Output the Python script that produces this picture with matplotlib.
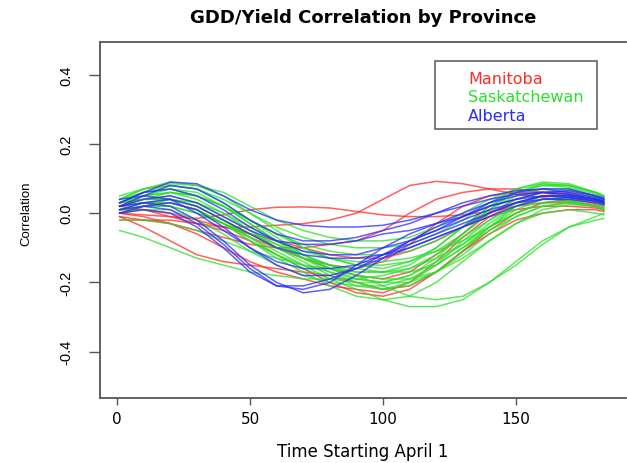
import matplotlib
matplotlib.use('Agg')
import matplotlib.pyplot as plt
from matplotlib.patches import Rectangle
import numpy as np

days = [1, 10, 20, 30, 40, 50, 60, 70, 80, 90, 100, 110, 120, 130, 140, 150, 160, 170, 180, 183]

# Manitoba stations
manitoba = [
    [0.0, -0.005, -0.01, -0.015, -0.005, 0.01, 0.017, 0.018, 0.015, 0.005, -0.005, -0.01, -0.01, -0.005, 0.005, 0.02, 0.03, 0.03, 0.02, 0.015],
    [0.02, 0.01, -0.01, -0.03, -0.04, -0.04, -0.035, -0.03, -0.02, 0.0, 0.04, 0.08, 0.092, 0.085, 0.07, 0.055, 0.045, 0.035, 0.025, 0.02],
    [-0.01, -0.02, -0.03, -0.05, -0.07, -0.09, -0.1, -0.1, -0.09, -0.08, -0.05, 0.0, 0.04, 0.06, 0.07, 0.07, 0.06, 0.045, 0.03, 0.025],
    [0.0, -0.01, -0.03, -0.06, -0.1, -0.14, -0.17, -0.19, -0.21, -0.22, -0.23, -0.2, -0.14, -0.07, -0.01, 0.03, 0.05, 0.05, 0.035, 0.03],
    [-0.01, -0.04, -0.08, -0.12, -0.14, -0.15, -0.16, -0.17, -0.18, -0.2, -0.22, -0.21, -0.17, -0.11, -0.05, 0.0, 0.03, 0.04, 0.03, 0.025],
    [0.02, 0.03, 0.03, 0.01, -0.03, -0.07, -0.1, -0.13, -0.16, -0.18, -0.19, -0.17, -0.12, -0.06, 0.0, 0.04, 0.06, 0.06, 0.045, 0.04],
    [0.01, 0.01, 0.0, -0.02, -0.04, -0.06, -0.08, -0.1, -0.12, -0.13, -0.13, -0.11, -0.08, -0.04, -0.01, 0.01, 0.02, 0.02, 0.015, 0.01],
    [0.03, 0.04, 0.04, 0.02, -0.02, -0.06, -0.1, -0.13, -0.15, -0.16, -0.14, -0.09, -0.03, 0.02, 0.05, 0.06, 0.06, 0.05, 0.04, 0.035],
    [-0.02, -0.02, -0.02, -0.03, -0.05, -0.08, -0.12, -0.16, -0.2, -0.23, -0.24, -0.22, -0.17, -0.11, -0.06, -0.02, 0.0, 0.01, 0.01, 0.005],
]

# Saskatchewan stations
saskatchewan = [
    [0.04, 0.07, 0.09, 0.08, 0.05, 0.0, -0.05, -0.1, -0.13, -0.15, -0.16, -0.14, -0.1, -0.04, 0.02, 0.06, 0.08, 0.08, 0.06, 0.05],
    [0.03, 0.06, 0.08, 0.07, 0.03, -0.02, -0.07, -0.12, -0.16, -0.19, -0.2, -0.18, -0.13, -0.06, 0.01, 0.06, 0.085, 0.08, 0.06, 0.05],
    [-0.05, -0.07, -0.1, -0.13, -0.15, -0.17, -0.18, -0.19, -0.19, -0.19, -0.18, -0.16, -0.12, -0.07, -0.02, 0.02, 0.04, 0.04, 0.03, 0.02],
    [0.01, 0.02, 0.02, 0.0, -0.03, -0.07, -0.11, -0.15, -0.19, -0.22, -0.25, -0.27, -0.27, -0.25, -0.2, -0.14, -0.08, -0.04, -0.02, -0.015],
    [0.02, 0.03, 0.03, 0.01, -0.03, -0.08, -0.13, -0.17, -0.21, -0.24, -0.25, -0.24, -0.2, -0.14, -0.08, -0.03, 0.0, 0.01, 0.0, -0.005],
    [0.03, 0.05, 0.06, 0.04, 0.0, -0.05, -0.1, -0.14, -0.18, -0.21, -0.22, -0.2, -0.15, -0.08, -0.02, 0.03, 0.05, 0.05, 0.03, 0.02],
    [0.0, 0.02, 0.03, 0.01, -0.03, -0.08, -0.12, -0.15, -0.17, -0.19, -0.2, -0.2, -0.17, -0.12, -0.06, -0.01, 0.02, 0.03, 0.02, 0.01],
    [0.02, 0.05, 0.07, 0.06, 0.02, -0.03, -0.08, -0.12, -0.15, -0.17, -0.17, -0.15, -0.1, -0.04, 0.02, 0.06, 0.08, 0.075, 0.055, 0.045],
    [0.04, 0.06, 0.07, 0.05, 0.02, -0.02, -0.06, -0.09, -0.11, -0.12, -0.12, -0.11, -0.08, -0.04, 0.01, 0.05, 0.07, 0.07, 0.05, 0.04],
    [0.01, 0.03, 0.04, 0.02, -0.02, -0.06, -0.1, -0.13, -0.15, -0.16, -0.17, -0.17, -0.15, -0.1, -0.04, 0.01, 0.04, 0.045, 0.03, 0.02],
    [0.03, 0.04, 0.04, 0.02, -0.02, -0.07, -0.12, -0.16, -0.19, -0.2, -0.2, -0.18, -0.14, -0.09, -0.03, 0.02, 0.05, 0.055, 0.04, 0.03],
    [0.05, 0.07, 0.08, 0.07, 0.04, 0.0, -0.04, -0.07, -0.09, -0.1, -0.1, -0.09, -0.06, -0.02, 0.03, 0.07, 0.09, 0.085, 0.06, 0.05],
    [0.0, 0.01, 0.01, -0.02, -0.06, -0.11, -0.15, -0.18, -0.2, -0.21, -0.21, -0.19, -0.15, -0.1, -0.05, -0.01, 0.02, 0.03, 0.02, 0.01],
    [0.02, 0.04, 0.05, 0.03, -0.01, -0.05, -0.09, -0.13, -0.16, -0.18, -0.19, -0.19, -0.17, -0.13, -0.08, -0.03, 0.01, 0.025, 0.02, 0.01],
    [0.01, 0.02, 0.02, 0.0, -0.03, -0.06, -0.09, -0.12, -0.15, -0.18, -0.21, -0.24, -0.25, -0.24, -0.2, -0.15, -0.09, -0.04, -0.01, 0.0],
    [0.03, 0.05, 0.06, 0.05, 0.02, -0.02, -0.06, -0.1, -0.13, -0.15, -0.15, -0.14, -0.11, -0.06, 0.0, 0.04, 0.06, 0.065, 0.045, 0.035],
    [-0.02, -0.02, -0.03, -0.05, -0.08, -0.11, -0.13, -0.15, -0.16, -0.17, -0.17, -0.16, -0.13, -0.09, -0.04, 0.0, 0.03, 0.035, 0.02, 0.01],
    [0.02, 0.04, 0.06, 0.05, 0.02, -0.03, -0.08, -0.13, -0.17, -0.2, -0.22, -0.21, -0.17, -0.11, -0.04, 0.02, 0.05, 0.05, 0.035, 0.025],
    [0.04, 0.07, 0.085, 0.08, 0.06, 0.02, -0.02, -0.05, -0.07, -0.08, -0.08, -0.07, -0.04, 0.0, 0.04, 0.07, 0.085, 0.08, 0.06, 0.05],
    [0.0, 0.02, 0.04, 0.03, 0.0, -0.04, -0.08, -0.11, -0.13, -0.14, -0.14, -0.13, -0.11, -0.08, -0.04, 0.0, 0.03, 0.035, 0.02, 0.01],
]

# Alberta stations
alberta = [
    [0.03, 0.06, 0.09, 0.085, 0.05, 0.01, -0.02, -0.035, -0.04, -0.04, -0.035, -0.02, 0.0, 0.02, 0.04, 0.055, 0.06, 0.055, 0.04, 0.035],
    [0.02, 0.05, 0.08, 0.07, 0.03, -0.02, -0.06, -0.08, -0.08, -0.07, -0.05, -0.03, 0.0, 0.03, 0.05, 0.065, 0.07, 0.06, 0.045, 0.04],
    [0.01, 0.02, 0.01, -0.03, -0.09, -0.16, -0.21, -0.22, -0.2, -0.15, -0.1, -0.06, -0.03, 0.0, 0.03, 0.05, 0.06, 0.055, 0.04, 0.035],
    [0.02, 0.03, 0.02, -0.02, -0.08, -0.15, -0.2, -0.23, -0.22, -0.18, -0.13, -0.08, -0.04, -0.01, 0.02, 0.04, 0.05, 0.045, 0.035, 0.03],
    [0.0, 0.01, 0.0, -0.04, -0.1, -0.17, -0.21, -0.21, -0.19, -0.16, -0.12, -0.08, -0.05, -0.02, 0.01, 0.03, 0.04, 0.04, 0.03, 0.025],
    [0.04, 0.05, 0.04, 0.0, -0.05, -0.1, -0.14, -0.16, -0.16, -0.15, -0.12, -0.09, -0.06, -0.03, 0.0, 0.03, 0.05, 0.05, 0.04, 0.03],
    [0.03, 0.06, 0.07, 0.05, 0.01, -0.04, -0.08, -0.11, -0.12, -0.12, -0.1, -0.08, -0.05, -0.01, 0.03, 0.06, 0.07, 0.07, 0.05, 0.04],
    [0.01, 0.03, 0.04, 0.02, -0.02, -0.06, -0.1, -0.12, -0.13, -0.13, -0.12, -0.1, -0.07, -0.04, -0.01, 0.02, 0.04, 0.045, 0.035, 0.03],
    [0.02, 0.04, 0.05, 0.03, -0.01, -0.05, -0.08, -0.09, -0.09, -0.08, -0.06, -0.05, -0.03, -0.01, 0.02, 0.04, 0.06, 0.065, 0.05, 0.045],
    [0.0, 0.02, 0.03, 0.01, -0.04, -0.1, -0.15, -0.18, -0.18, -0.16, -0.13, -0.1, -0.07, -0.04, 0.0, 0.03, 0.05, 0.05, 0.04, 0.03],
]

provinces = ['Manitoba', 'Saskatchewan', 'Alberta']
colors = ['#ff2a2a', '#2ae02a', '#2a2aff']

fig = plt.figure(figsize=(6.27, 4.64), dpi=100)
ax = fig.add_axes([0.1595, 0.14, 0.839, 0.767])

for curves, col in zip([manitoba, saskatchewan, alberta], colors):
    for c in curves:
        ax.plot(days, c, color=col, lw=1.1, alpha=0.75, solid_joinstyle='round')

ax.set_xlim(-6.4, 191.4)
ax.set_ylim(-0.534, 0.494)
ax.set_xticks([0, 50, 100, 150])
ax.set_yticks([-0.4, -0.2, 0.0, 0.2, 0.4])
ax.set_yticklabels(['-0.4', '-0.2', '0.0', '0.2', '0.4'], rotation=90, va='center',
                   family='Liberation Sans', fontsize=10.5)
ax.set_xticklabels(['0', '50', '100', '150'], family='DejaVu Sans', fontsize=11)
ax.tick_params(axis='x', length=5, width=1, color='#555555', pad=4)
ax.tick_params(axis='y', length=8, width=1, color='#555555', pad=11)
for s in ax.spines.values():
    s.set_color('#555555')
    s.set_linewidth(1.3)
ax.spines['right'].set_visible(False)

# legend box drawn by hand
ax.add_patch(Rectangle((0.637, 0.756), 0.308, 0.191, transform=ax.transAxes,
                       fill=False, edgecolor='#555555', lw=1.1))
for i, (name, col) in enumerate(zip(provinces, colors)):
    ax.text(0.70, 0.899 - i * 0.052, name, color=col, transform=ax.transAxes,
            family='DejaVu Sans', fontsize=11.5, va='center')

fig.text(0.579, 0.961, 'GDD/Yield Correlation by Province', ha='center', va='center',
         family='DejaVu Sans', fontsize=13, fontweight='bold')
fig.text(0.579, 0.026, 'Time Starting April 1', ha='center', va='center',
         family='DejaVu Sans', fontsize=12)
fig.text(0.042, 0.539, 'Correlation', ha='center', va='center', rotation=90,
         family='Liberation Sans', fontsize=9.5)

fig.savefig('out.png', dpi=100)
